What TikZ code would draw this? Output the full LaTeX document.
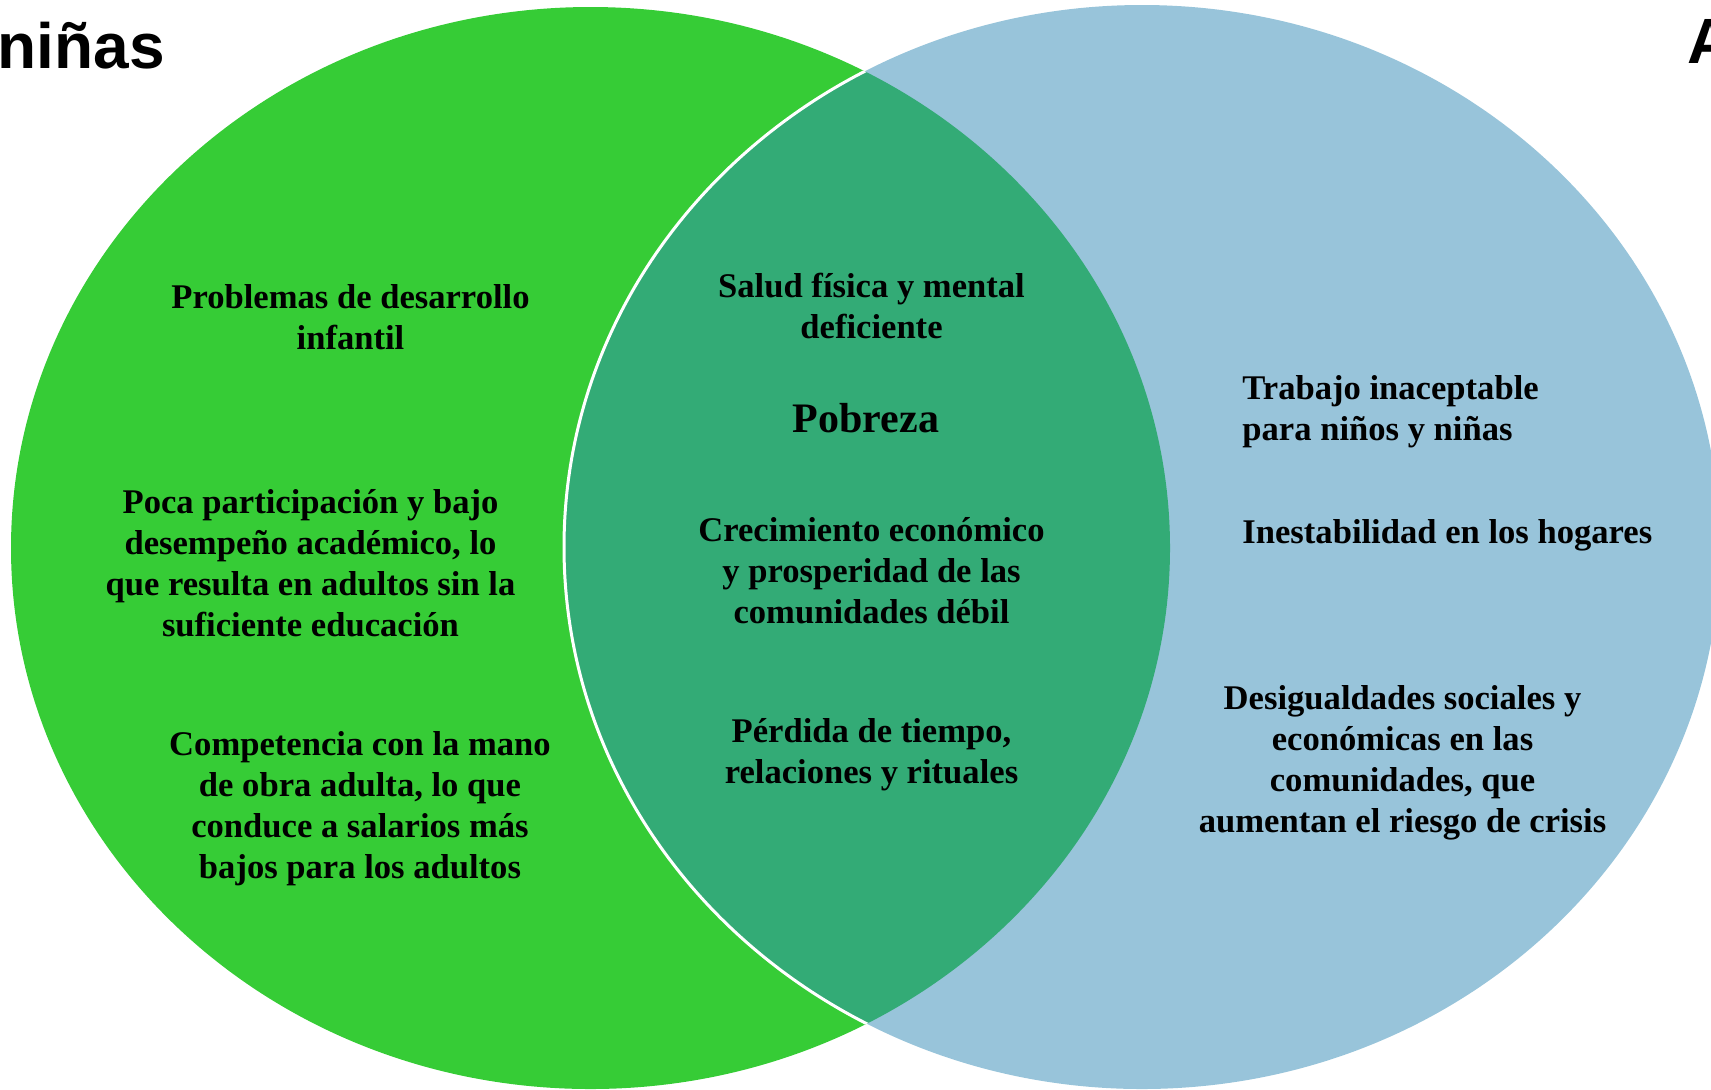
\documentclass[tikz,border=0pt]{standalone}
\usepackage{fontspec}
\setmainfont{Liberation Serif}
\newfontfamily\titlefont{Liberation Sans}

\definecolor{vennGreen}{RGB}{54,204,54}
\definecolor{vennBlue}{RGB}{152,196,218}
\definecolor{vennMix}{RGB}{51,171,118}

\tikzset{
  venntext/.style={font=\bfseries\fontsize{17.3}{20.5}\selectfont, align=center, inner sep=0pt, anchor=base},
  vennleft/.style={venntext, align=left, anchor=base west},
  venntitle/.style={font=\titlefont\bfseries\fontsize{32}{38}\selectfont, inner sep=0pt},
  leftset/.style={x radius=289.75pt, y radius=270.5pt},
  rightset/.style={x radius=289pt, y radius=271pt}
}

\begin{document}
\begin{tikzpicture}[x=0.5pt,y=-0.5pt]
\useasboundingbox (0,0) rectangle (1711,1089);
% draw the two sets
\fill[vennGreen] (590.5,548) ellipse [leftset];
\fill[vennBlue] (1142,547) ellipse [rightset];
% draw the overlap
\begin{scope}
\clip (590.5,548) ellipse [leftset];
\fill[vennMix] (1142,547) ellipse [rightset];
\draw[white, line width=1.5pt] (1142,547) ellipse [rightset];
\end{scope}

% draw titles
\node (titleleft) [venntitle, anchor=base east] at (165,68) {niñas};
\node (titleright) [venntitle, anchor=base west] at (1687,63) {A};

% draw left texts (placed by the baseline of the last line)
\node (desarrollo) [venntext] at (350.5,349) {
  Problemas de desarrollo \\
  infantil
};
\node (participacion) [venntext] at (310.5,636) {
  Poca participación y bajo \\
  desempeño académico, lo \\
  que resulta en adultos sin la \\
  suficiente educación
};
\node (competencia) [venntext] at (360,878) {
  Competencia con la mano \\
  de obra adulta, lo que \\
  conduce a salarios más \\
  bajos para los adultos
};

% draw middle texts
\node (salud) [venntext] at (871.5,338.5) {
  Salud física y mental \\
  deficiente
};
\node (pobreza) [venntext, font=\bfseries\fontsize{21}{24}\selectfont] at (866,432.5) {Pobreza};
\node (crecimiento) [venntext] at (871.5,623) {
  Crecimiento económico \\
  y prosperidad de las \\
  comunidades débil
};
\node (perdida) [venntext] at (871.5,783) {
  Pérdida de tiempo, \\
  relaciones y rituales
};

% draw right texts
\node (trabajo) [vennleft] at (1242,440) {
  Trabajo inaceptable \\
  para niños y niñas
};
\node (inestabilidad) [vennleft] at (1242,543) {Inestabilidad en los hogares};
\node (desigualdades) [venntext] at (1402.5,832) {
  Desigualdades sociales y \\
  económicas en las \\
  comunidades, que \\
  aumentan el riesgo de crisis
};
\end{tikzpicture}
\end{document}
